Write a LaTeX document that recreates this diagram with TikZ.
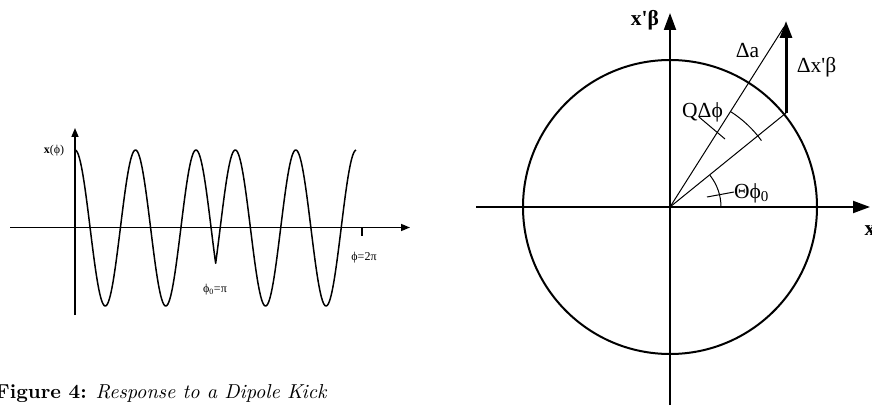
\documentclass[tikz,border=0pt]{standalone}
\usepackage{graphicx}
\usepackage{fontspec}
\newfontfamily\tms{Liberation Serif}
\usetikzlibrary{arrows.meta}
\tikzset{
  axisL/.style={line width=1.5pt,-{Triangle[length=9pt,width=7pt]}},
  wave/.style={line width=1.5pt},
  axisR/.style={line width=2pt,-{Triangle[length=17pt,width=12pt]}},
  kick/.style={line width=3pt,-{Triangle[length=17pt,width=12pt]}},
  thin/.style={line width=1pt},
  lblL/.style={inner sep=0pt,font=\tms\fontsize{12}{14}\selectfont},
  lblR/.style={inner sep=0pt,font=\tms\fontsize{21.5}{25}\selectfont},
}
\begin{document}
\begin{tikzpicture}[x=1pt,y=-1pt]
\useasboundingbox (0,0) rectangle (872,406);
% ---------------- left: response ----------------
\coordinate (lO) at (75,227.5);
\coordinate (lyb) at (75,315);
\coordinate (lyt) at (75,128);
\coordinate (lxl) at (10,227.5);
\coordinate (lxr) at (410,227.5);
\coordinate (tk1) at (362,227.5);
\coordinate (tk2) at (362,236);
\draw[axisL] (lyb) -- (lyt);
\draw[axisL] (lxl) -- (lxr);
\draw[line width=1.2pt] (tk1) -- (tk2);
\draw[wave,line join=round] plot[domain=75:215.65,samples=160] (\x,{228-78*cos(5.9504*(\x-75))})
  -- plot[domain=215.65:356,samples=160] (\x,{228-78*cos(5.9504*(\x-235.3))});
\node[lblL] (xphi) at (54,151) {\textbf{x}(ϕ)};
\node[lblL] (phi0) at (215,290) {ϕ\textsubscript{0}=π};
\node[lblL] (phi2) at (364,258) {ϕ=2π};
% caption
\node[anchor=base west,inner sep=0pt] (cap) at (-5,398)
  {\resizebox{332pt}{!}{\textbf{Figure 4:} \textit{Response to a Dipole Kick}}};
% ---------------- right: phase space ----------------
\coordinate (O) at (670,207);
\coordinate (yb) at (670,405);
\coordinate (yt) at (670,13);
\coordinate (xl) at (476,207);
\coordinate (xr) at (870,207);
\coordinate (P) at (786,113);
\coordinate (Pt) at (786,21);
\coordinate (A) at (784,27);
\draw[line width=2pt] (O) circle[radius=147];
\draw[axisR] (yb) -- (yt);
\draw[axisR] (xl) -- (xr);
\draw[thin] (O) -- (P);
\draw[thin] (O) -- (A);
\draw[kick] (P) -- (Pt);
% angle arcs
\draw[thin] (O) ++(-36:113) arc[start angle=-36,end angle=-57.5,radius=113];
\draw[thin] (O) ++(0:51) arc[start angle=0,end angle=-38.5,radius=51];
% leader ticks
\coordinate (q1) at (699,117);
\coordinate (q2) at (725,139);
\draw[thin] (q1) -- (q2);
\coordinate (t1) at (707,197);
\coordinate (t2) at (734,192);
\draw[thin] (t1) -- (t2);
% labels
\node[lblR] (xpb) at (645,20) {\textbf{x'β}};
\node[lblR] (xax) at (870,231) {\textbf{x}};
\node[lblR] (da) at (747.5,51) {Δa};
\node[lblR] (dxpb) at (816.5,67) {Δx'β};
\node[lblR] (qdp) at (702.5,112) {QΔϕ};
\node[lblR] (thp) at (751.5,193) {Θϕ\textsubscript{0}};
\end{tikzpicture}
\end{document}
